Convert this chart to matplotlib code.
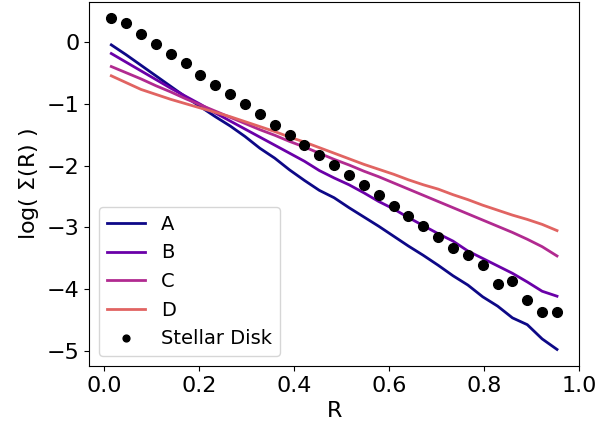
import numpy as np
import matplotlib.pyplot as plt

# radial bin centres (31 bins of width 1/32)
R = (np.arange(31) + 0.5) / 32

A = [-0.05, -0.21, -0.38, -0.55, -0.72, -0.89, -1.05, -1.21, -1.36, -1.53,
     -1.72, -1.88, -2.07, -2.24, -2.40, -2.52, -2.68, -2.83, -2.98, -3.14,
     -3.30, -3.45, -3.61, -3.78, -3.93, -4.12, -4.27, -4.46, -4.57, -4.80, -4.97]
B = [-0.19, -0.33, -0.47, -0.61, -0.75, -0.88, -1.01, -1.15, -1.28, -1.41,
     -1.54, -1.67, -1.80, -1.93, -2.08, -2.20, -2.31, -2.44, -2.58, -2.70,
     -2.84, -2.97, -3.10, -3.22, -3.38, -3.50, -3.62, -3.74, -3.88, -4.03, -4.11]
C = [-0.40, -0.50, -0.60, -0.71, -0.81, -0.92, -1.02, -1.12, -1.22, -1.32,
     -1.42, -1.51, -1.61, -1.70, -1.80, -1.90, -1.99, -2.09, -2.18, -2.28,
     -2.38, -2.48, -2.58, -2.68, -2.78, -2.88, -2.98, -3.08, -3.19, -3.31, -3.46]
D = [-0.55, -0.66, -0.77, -0.85, -0.93, -1.00, -1.07, -1.14, -1.21, -1.29,
     -1.37, -1.45, -1.54, -1.62, -1.71, -1.80, -1.89, -1.98, -2.06, -2.14,
     -2.23, -2.31, -2.38, -2.47, -2.55, -2.64, -2.72, -2.80, -2.87, -2.95, -3.05]
disk = [0.38, 0.30, 0.12, -0.03, -0.20, -0.35, -0.53, -0.70, -0.85, -1.01,
        -1.17, -1.35, -1.51, -1.67, -1.83, -1.99, -2.16, -2.32, -2.48, -2.66,
        -2.82, -2.97, -3.16, -3.33, -3.44, -3.60, -3.92, -3.86, -4.17, -4.36, -4.37]

labels = ['A', 'B', 'C', 'D']
colors = plt.cm.plasma(np.linspace(0, 0.6, 4))

fig = plt.figure(figsize=(5.99, 4.32), dpi=100)
ax = fig.add_axes([0.1486, 0.1528, 0.8185, 0.8433])

for y, lab, c in zip([A, B, C, D], labels, colors):
    ax.plot(R, y, color=c, lw=2, label=lab)
ax.plot(R, disk, 'ko', markersize=7, label='Stellar Disk')

ax.set_xlabel('R', fontsize=16)
ax.set_ylabel(r'log( $\Sigma$(R) )', fontsize=16)
ax.tick_params(labelsize=16)
ax.set_xticks([0.0, 0.2, 0.4, 0.6, 0.8, 1.0])
ax.legend(loc='lower left', fontsize=14, markerscale=0.7)

fig.savefig('out.png', dpi=100)
